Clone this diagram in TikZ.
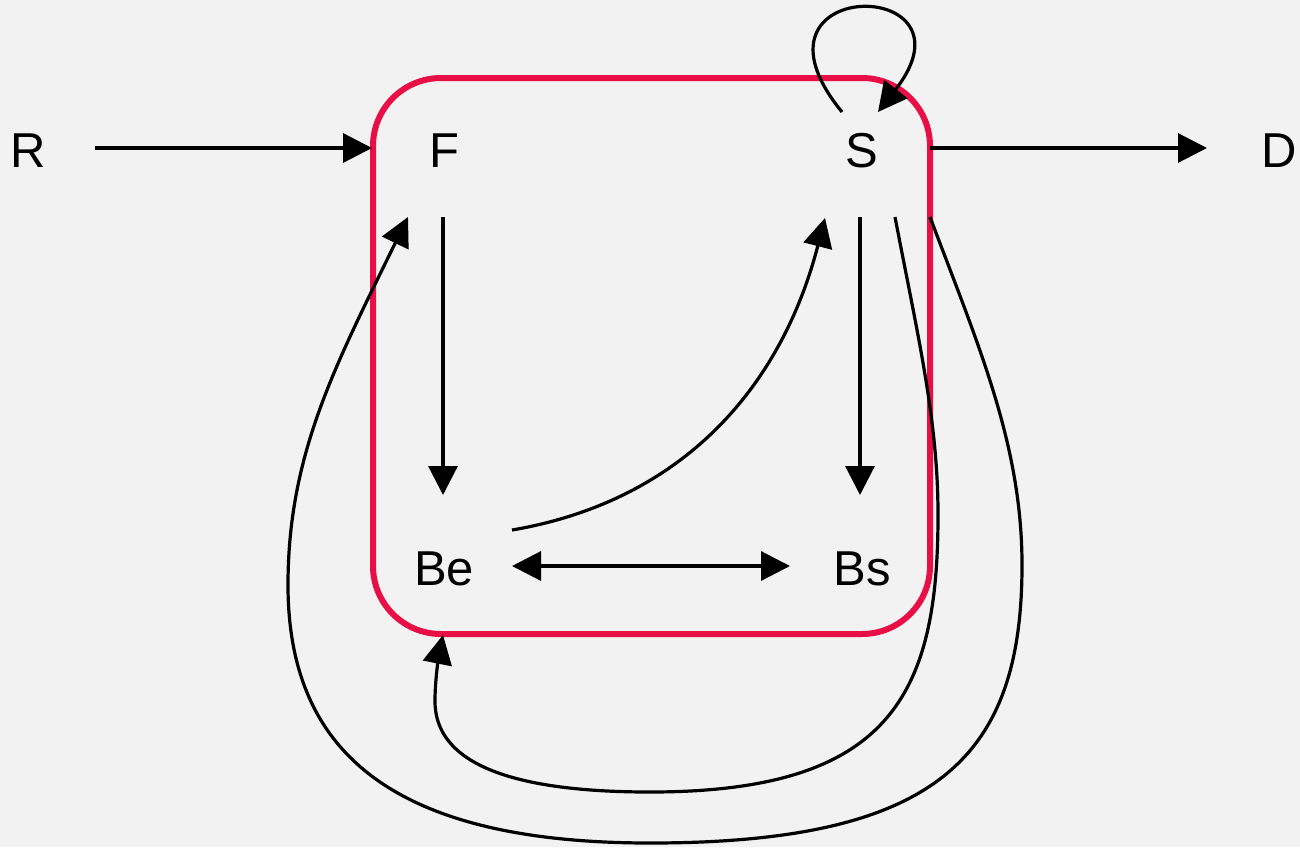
\documentclass[tikz,border=0pt]{standalone}
\usepackage{fontspec}
\setmainfont{Liberation Sans}
\usetikzlibrary{arrows.meta,calc}
\definecolor{bgc}{RGB}{242,242,242}
\definecolor{boxred}{RGB}{232,14,70}
\begin{document}
\begin{tikzpicture}[x=1pt,y=-1pt,
  lbl/.style={inner sep=0pt, font=\fontsize{49}{58}\selectfont},
  tip/.tip={Triangle[length=29pt,width=29pt]},
  arr/.style={line width=3.2pt, -tip},
  darr/.style={line width=3.2pt, tip-tip},
  grp/.style={line width=6pt, draw=boxred, rounded corners=68pt}]
\useasboundingbox (0,0) rectangle (1300,847);
\fill[bgc] (0,0) rectangle (1300,847);
\draw[grp] (373,78) rectangle (930,634);
\node[lbl] (R) at (28,151) {R};
\node[lbl] (F) at (444,151) {F};
\node[lbl] (S) at (862,151) {S};
\node[lbl] (D) at (1279,151) {D};
\node[lbl] (Be) at (444,569) {Be};
\node[lbl] (Bs) at (862,569) {Bs};
\draw[arr] ($(R)+(67,-3)$) -- ($(F)+(-72,-3)$);
\draw[arr] ($(S)+(68,-3)$) -- ($(D)+(-72,-3)$);
\draw[arr] ($(F)+(-1,66)$) -- ($(Be)+(-1,-74)$);
\draw[arr] ($(S)+(-2,66)$) -- ($(Bs)+(-2,-74)$);
\draw[darr] ($(Be)+(68,-3)$) -- ($(Bs)+(-72,-3)$);
\draw[arr] ($(Be)+(68,-39)$) .. controls (682,501) and (781,388) .. ($(S)+(-37,67)$);
\draw[arr] ($(S)+(-20,-39)$) .. controls (730,-25) and (985,-25) .. ($(S)+(16,-39)$);
\draw[arr] ($(S)+(33,66)$) .. controls (918,337) and (938,420) .. (938,515)
  .. controls (938,695) and (890,792) .. (650,792)
  .. controls (515,792) and (434,765) .. (435,700)
  .. controls (435,680) and (439,655) .. ($(Be)+(-1,66)$);
\draw[arr] ($(S)+(68,66)$) .. controls (979,347) and (1022,445) .. (1022,565)
  .. controls (1022,755) and (940,843) .. (650,843)
  .. controls (390,843) and (288,750) .. (288,585)
  .. controls (288,455) and (334.5,367) .. ($(F)+(-36,66)$);
\end{tikzpicture}
\end{document}
